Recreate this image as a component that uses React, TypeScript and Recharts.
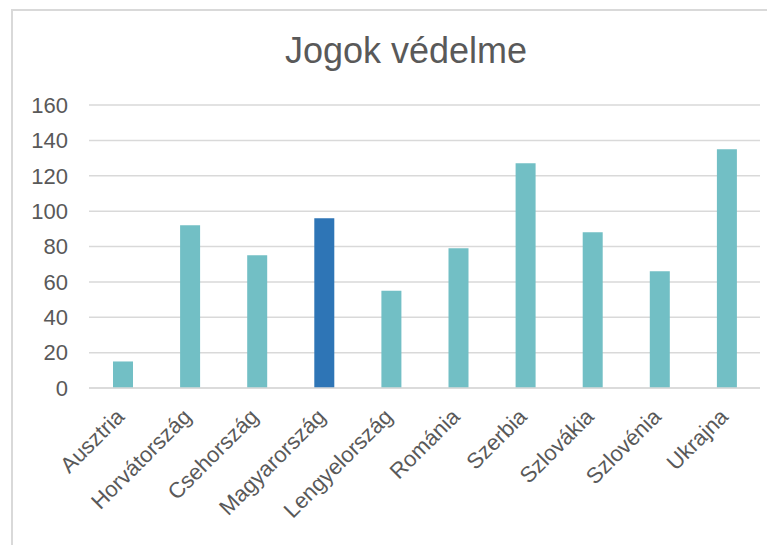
import React from "react";
import { BarChart, Bar, XAxis, YAxis, CartesianGrid, Cell } from "recharts";

const countries = [
  "Ausztria",
  "Horvátország",
  "Csehország",
  "Magyarország",
  "Lengyelország",
  "Románia",
  "Szerbia",
  "Szlovákia",
  "Szlovénia",
  "Ukrajna",
];
const scores = [15, 92, 75, 96, 55, 79, 127, 88, 66, 135];
const yTicks = [0, 20, 40, 60, 80, 100, 120, 140, 160];
const highlighted = "Magyarország";

const data = countries.map((name, i) => ({ name, value: scores[i] }));

const FONT = '"Liberation Sans", Arial, sans-serif';
const TEXT = "#595959";
const GRID = "#D9D9D9";

// slanted country label, its baseline ends just under the bar
const CountryTick = (props: any) => {
  const { x, y, payload } = props;
  return (
    <g transform={`translate(${x + 3},${y + 30})`}>
      <text transform="rotate(-45)" textAnchor="end" fill={TEXT} fontSize={22} fontFamily={FONT}>
        {payload.value}
      </text>
    </g>
  );
};

export default function App() {
  return (
    <div style={{ position: "fixed", left: 0, top: 0, width: 767, height: 545, background: "#fff", fontFamily: FONT, overflow: "hidden" }}>
      {/* chart frame, only left and top edges show in the window */}
      <div style={{ position: "absolute", left: 11, top: 9, width: 900, height: 700, border: `2px solid ${GRID}`, boxSizing: "border-box" }} />
      <div style={{ position: "absolute", left: 0, top: 30, width: 812, textAlign: "center", fontSize: 36, color: TEXT, lineHeight: "normal" }}>
        Jogok védelme
      </div>
      <div style={{ position: "absolute", left: 0, top: 0 }}>
        <BarChart width={767} height={545} data={data} margin={{ top: 105, right: 7, left: 0, bottom: 7 }}>
          <CartesianGrid vertical={false} stroke={GRID} strokeWidth={1.5} />
          <XAxis
            dataKey="name"
            interval={0}
            height={150}
            tickLine={false}
            tickSize={0}
            tickMargin={0}
            axisLine={{ stroke: GRID, strokeWidth: 1.5 }}
            tick={<CountryTick />}
          />
          <YAxis
            width={89}
            domain={[0, 160]}
            ticks={yTicks}
            tickLine={false}
            axisLine={false}
            tickSize={6}
            tickMargin={15}
            tick={{ fill: TEXT, fontSize: 22, fontFamily: FONT }}
          />
          <Bar dataKey="value" barSize={20} isAnimationActive={false}>
            {data.map((d) => (
              <Cell key={d.name} fill={d.name === highlighted ? "#2E75B6" : "#72BFC5"} />
            ))}
          </Bar>
        </BarChart>
      </div>
    </div>
  );
}
